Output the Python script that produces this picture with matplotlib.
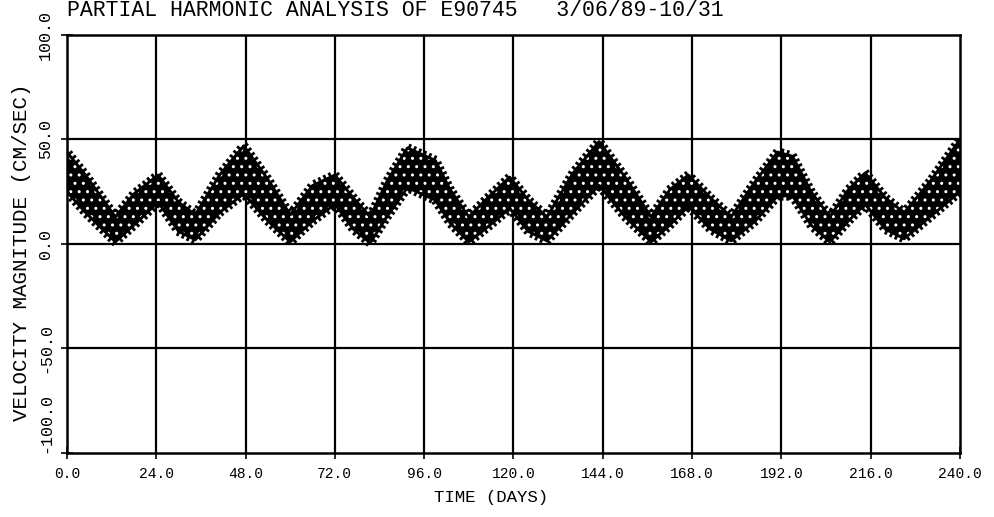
import matplotlib
matplotlib.use('Agg')
from matplotlib import pyplot as plt
from matplotlib import patheffects

# band of the velocity magnitude trace (upper / lower envelope, cm/s)
days = [0, 5, 13, 18, 24.5, 30, 34.5, 41, 47.5, 54, 60, 66, 72, 77, 81.5,
        86, 91.5, 99, 103, 108, 113, 119, 124, 129, 136, 143, 150, 157,
        162, 167, 173, 178.5, 185, 191, 195, 200, 205, 210, 214.5, 220,
        225, 232, 240]
upper = [44, 33, 13, 24, 33, 20, 14, 33, 47, 31, 14, 28, 33, 22, 13,
         30, 46, 40, 26, 13, 22, 32, 21, 13, 34, 49, 32, 13,
         26, 33, 22, 13, 30, 44, 42, 25, 13, 26, 34, 22,
         15, 30, 50]
lower = [25, 15, 1, 9, 20, 6, 2, 15, 24, 11, 1, 11, 19, 7, 0.5,
         13, 27, 21, 10, 1, 8, 17, 6, 1.5, 15, 28, 13, 1,
         9, 18, 7, 1.5, 11, 23, 23, 9, 1, 11, 19, 7,
         2.5, 13, 25]

xticks = [0, 24, 48, 72, 96, 120, 144, 168, 192, 216, 240]
xticklabels = ['0.0', '24.0', '48.0', '72.0', '96.0', '120.0', '144.0',
               '168.0', '192.0', '216.0', '240.0']
yticks = [-100, -50, 0, 50, 100]
yticklabels = ['-100.0', '-50.0', '0.0', '50.0', '100.0']

plt.rcParams['font.family'] = ['Liberation Mono', 'DejaVu Sans Mono']
plt.rcParams['hatch.linewidth'] = 1.0

fig = plt.figure(figsize=(9.95, 5.17), dpi=100)
ax = fig.add_axes([0.0673, 0.1238, 0.8975, 0.8085])

ax.set_xlim(0, 240)
ax.set_ylim(-100, 100)

# grid lines
for x in xticks[1:-1]:
    ax.axvline(x, color='black', linewidth=1.6, zorder=1)
for y in yticks[1:-1]:
    ax.axhline(y, color='black', linewidth=1.6, zorder=1)

# the thick noisy trace
ax.fill_between(days, lower, upper, facecolor='black', edgecolor='white',
                hatch='..', linewidth=0, zorder=2)
ax.plot(days, upper, color='black', linewidth=2, zorder=3,
        path_effects=[patheffects.withTickedStroke(angle=90, spacing=4, length=0.6)])
ax.plot(days, lower, color='black', linewidth=2, zorder=3,
        path_effects=[patheffects.withTickedStroke(angle=-90, spacing=4, length=0.6)])

for s in ax.spines.values():
    s.set_linewidth(1.8)

ax.set_xticks(xticks)
ax.set_xticklabels(xticklabels, fontsize=10.5)
ax.set_yticks(yticks)
ax.set_yticklabels(yticklabels, fontsize=12, rotation=90, va='center')
ax.tick_params(direction='inout', length=8, width=1.2)
ax.tick_params(axis='x', pad=6)
ax.tick_params(axis='y', pad=6)
for lab in ax.get_yticklabels():
    if lab.get_text() == '-100.0':
        lab.set_va('bottom')

ax.set_xlabel('TIME (DAYS)', fontsize=12.5)
ax.xaxis.set_label_coords(0.475, -0.0885)
ax.set_ylabel('VELOCITY MAGNITUDE (CM/SEC)', fontsize=15)
ax.yaxis.set_label_coords(-0.04, 0.481)
fig.text(0.0673, 0.98, 'PARTIAL HARMONIC ANALYSIS OF E90745   3/06/89-10/31',
         fontsize=15.5, ha='left', va='center')

fig.savefig('out.png', dpi=100)
